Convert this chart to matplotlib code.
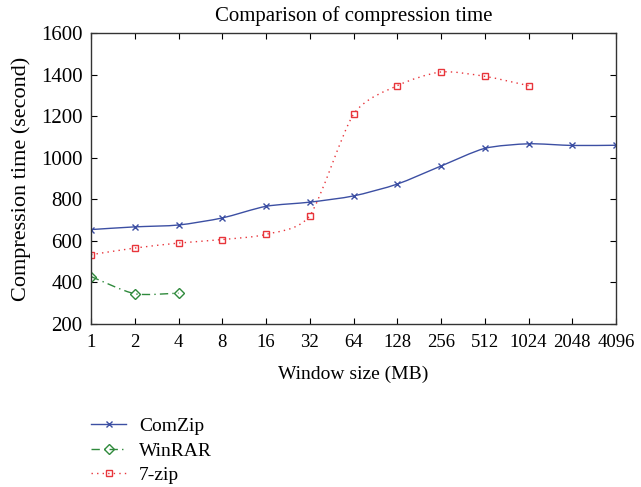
import numpy as np
import matplotlib
matplotlib.use("Agg")
import matplotlib.pyplot as plt
from matplotlib.path import Path
from matplotlib.patches import PathPatch
from matplotlib.lines import Line2D

window_labels = ["1", "2", "4", "8", "16", "32", "64", "128", "256", "512", "1024", "2048", "4096"]
comzip = [654, 667, 676, 710, 766, 786, 816, 873, 960, 1045, 1067, 1059, 1060]
winrar = [428, 345, 348]
sevenzip = [533, 565, 589, 606, 631, 721, 1209, 1347, 1413, 1392, 1347]

plt.rcParams['font.family'] = ['Liberation Serif', 'DejaVu Serif']


def smooth_path(xs, ys):
    # cubic bezier through the points (catmull-rom style tangents)
    pts = np.column_stack([xs, ys]).astype(float)
    verts = [pts[0]]
    codes = [Path.MOVETO]
    n = len(pts)
    for i in range(n - 1):
        p0 = pts[i - 1] if i > 0 else pts[i]
        p1 = pts[i]
        p2 = pts[i + 1]
        p3 = pts[i + 2] if i + 2 < n else pts[i + 1]
        c1 = p1 + (p2 - p0) / 8.0
        c2 = p2 - (p3 - p1) / 8.0
        verts += [c1, c2, p2]
        codes += [Path.CURVE4] * 3
    return Path(verts, codes)


def draw_series(ax, ys, color, ls, marker, ms, label):
    xs = np.arange(len(ys))
    patch = PathPatch(smooth_path(xs, ys), facecolor='none', edgecolor=color,
                      linestyle=ls, linewidth=1.0)
    ax.add_patch(patch)
    ax.plot(xs, ys, linestyle='none', marker=marker, markersize=ms,
            markerfacecolor='none', markeredgecolor=color, markeredgewidth=1.0)
    return Line2D([], [], color=color, linestyle=ls, linewidth=1.0, marker=marker,
                  markersize=ms, markerfacecolor='none', markeredgecolor=color, label=label)


fig = plt.figure(figsize=(6.41, 4.87), dpi=100)
ax = fig.add_axes([0.142, 0.335, 0.819, 0.597])

h1 = draw_series(ax, comzip, '#3c4fa3', '-', 'x', 5, 'ComZip')
h2 = draw_series(ax, winrar, '#2f8a3c', (0, (6, 3, 1, 3)), 'D', 5.5, 'WinRAR')
h3 = draw_series(ax, sevenzip, '#e8353b', (0, (1, 3)), 's', 5, '7-zip')

ax.set_xlim(0, len(window_labels) - 1)
ax.set_ylim(200, 1600)
ax.set_xticks(np.arange(len(window_labels)))
ax.set_xticklabels(window_labels)
ax.set_yticks(np.arange(200, 1601, 200))
ax.tick_params(direction='in', top=True, right=True, length=4)
ax.tick_params(axis='x', labelsize=13.5, pad=7)
ax.tick_params(axis='y', labelsize=15, pad=6)
for s in ax.spines.values():
    s.set_linewidth(1.0)
    s.set_color('#333333')

ax.set_title('Comparison of compression time', fontsize=15, pad=9)
ax.set_xlabel('Window size (MB)', fontsize=14, labelpad=11)
ax.set_ylabel('Compression time (second)', fontsize=16, labelpad=7)

fig.legend(handles=[h1, h2, h3], loc='upper left', bbox_to_anchor=(0.142, 0.143),
           frameon=False, fontsize=14, handlelength=1.8, handletextpad=0.67,
           labelspacing=0.36, borderpad=0, borderaxespad=0)

fig.savefig('out.png', dpi=100)
